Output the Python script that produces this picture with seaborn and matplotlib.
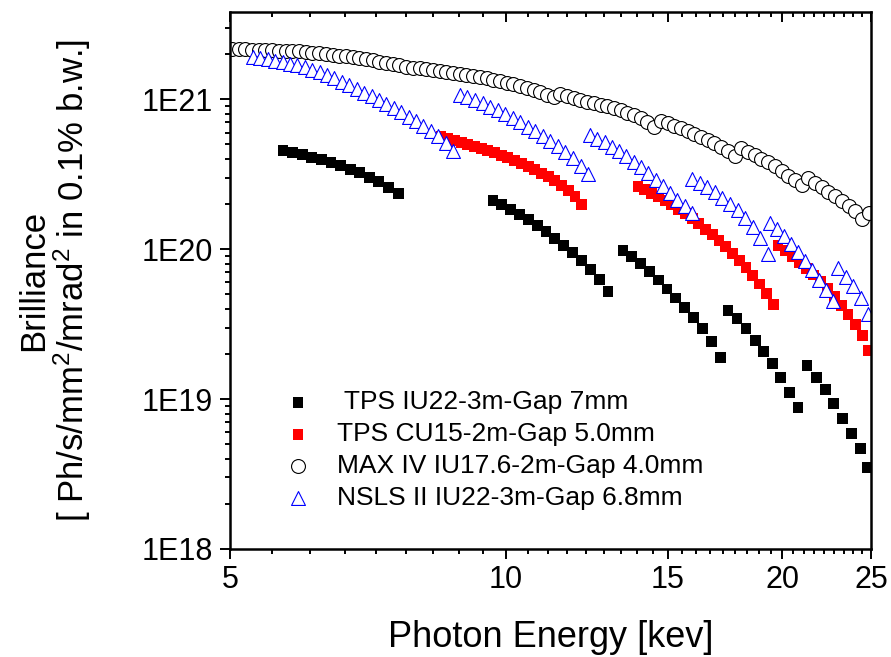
import numpy as np
import pandas as pd
import seaborn as sns
import matplotlib
matplotlib.use("Agg")
import matplotlib.pyplot as plt
from matplotlib.ticker import FixedLocator, NullFormatter

# photon energy [keV] and brilliance [1E20 Ph/s/mm2/mrad2/0.1%bw]
iu22_energy = [5.712, 5.851, 5.994, 6.140, 6.290, 6.443, 6.600, 6.761, 6.925, 7.094, 7.267, 7.445, 7.626,
               9.677, 9.894, 10.118, 10.341, 10.576, 10.812, 11.054, 11.305, 11.557, 11.819, 12.083, 12.353, 12.630, 12.916,
               13.413, 13.714, 14.020, 14.330, 14.651, 14.979, 15.314, 15.657, 16.008, 16.366, 16.732, 17.114,
               17.458, 17.858, 18.267, 18.685, 19.090, 19.502, 19.922, 20.372, 20.813,
               21.290, 21.805, 22.277, 22.758, 23.279, 23.810, 24.324, 24.783]
iu22_brill = [4.533, 4.396, 4.264, 4.104, 3.949, 3.772, 3.602, 3.414, 3.235, 3.020, 2.818, 2.591, 2.345,
              2.106, 1.981, 1.849, 1.713, 1.574, 1.436, 1.310, 1.186, 1.065, 0.9492, 0.8397, 0.7314, 0.6275, 0.5220,
              0.9788, 0.8928, 0.8019, 0.7093, 0.6228, 0.5424, 0.4726, 0.4085, 0.3505, 0.2960, 0.2426, 0.1898,
              0.3901, 0.3451, 0.2938, 0.2463, 0.2081, 0.1731, 0.1397, 0.1110, 0.0882,
              0.1679, 0.1397, 0.1163, 0.0937, 0.0744, 0.0592, 0.0470, 0.0351]

cu15_energy = [8.493, 8.636, 8.783, 8.933, 9.083, 9.238, 9.395, 9.553, 9.716, 9.881, 10.047, 10.219, 10.393,
               10.568, 10.748, 10.931, 11.114, 11.305, 11.497, 11.690, 11.890, 12.092,
               13.927, 14.166, 14.409, 14.652, 14.905, 15.160, 15.417, 15.682, 15.952, 16.221, 16.501, 16.784,
               17.068, 17.361, 17.659, 17.957, 18.267, 18.581, 18.894, 19.220, 19.550,
               19.794, 20.147, 20.506, 20.865, 21.238, 21.616, 22.000, 22.387, 22.786, 23.191, 23.598, 24.019,
               24.446, 24.813]
cu15_brill = [5.618, 5.448, 5.284, 5.124, 4.970, 4.820, 4.674, 4.533, 4.396, 4.231, 4.072, 3.919, 3.743,
              3.575, 3.388, 3.210, 3.043, 2.862, 2.651, 2.455, 2.239, 1.981,
              2.611, 2.493, 2.363, 2.239, 2.106, 1.981, 1.849, 1.726, 1.598, 1.481, 1.361, 1.251,
              1.141, 1.041, 0.9420, 0.8462, 0.7542, 0.6672, 0.5857, 0.5063, 0.4277,
              1.057, 0.9788, 0.8928, 0.8143, 0.7427, 0.6723, 0.6086, 0.5466, 0.4835, 0.4212, 0.3670, 0.3148,
              0.2659, 0.2113]

maxiv_energy = [5.025, 5.110, 5.197, 5.285, 5.375, 5.466, 5.559, 5.653, 5.749, 5.847,
                5.946, 6.047, 6.149, 6.254, 6.360, 6.468, 6.577, 6.689, 6.802, 6.918,
                7.035, 7.154, 7.276, 7.399, 7.525, 7.652, 7.782, 7.914, 8.048, 8.185,
                8.324, 8.465, 8.609, 8.755, 8.903, 9.054, 9.208, 9.364, 9.523, 9.685,
                9.849, 10.016, 10.186, 10.359, 10.535, 10.714, 10.896, 11.081, 11.269, 11.460,
                11.654, 11.852, 12.053, 12.258, 12.466, 12.677, 12.892, 13.111, 13.334, 13.560,
                13.790, 14.024, 14.262, 14.504, 14.750, 15.001, 15.255, 15.514, 15.778, 16.045,
                16.318, 16.595, 16.876, 17.163, 17.454, 17.750, 18.051, 18.358, 18.669, 18.986,
                19.308, 19.636, 19.969, 20.308, 20.652, 21.003, 21.359, 21.722, 22.090, 22.465,
                22.846, 23.234, 23.628, 24.029, 24.437, 24.851]
maxiv_brill = [21.66, 21.59, 21.52, 21.42, 21.32, 21.26, 21.19, 21.13, 21.06, 21.00,
               20.84, 20.68, 20.49, 20.27, 20.06, 19.81, 19.57, 19.33, 19.10, 18.81,
               18.49, 18.16, 17.82, 17.47, 17.16, 16.82, 16.48, 16.13, 16.06, 15.89,
               15.65, 15.41, 15.15, 14.90, 14.67, 14.45, 14.22, 13.99, 13.77, 13.54,
               13.22, 12.88, 12.55, 12.21, 11.86, 11.50, 11.12, 10.75, 10.29, 10.87,
               10.54, 10.14, 9.83, 9.61, 9.39, 9.18, 8.97, 8.70, 8.44, 8.12,
               7.82, 7.46, 7.02, 6.50, 7.18, 6.91, 6.65, 6.40, 6.11, 5.84,
               5.58, 5.33, 5.09, 4.82, 4.53, 4.20, 4.71, 4.46, 4.23, 4.01,
               3.80, 3.58, 3.34, 3.09, 2.88, 2.69, 2.97, 2.78, 2.59, 2.42,
               2.26, 2.11, 1.95, 1.79, 1.60, 1.75]

nsls_energy = [5.297, 5.396, 5.497, 5.600, 5.706, 5.813, 5.923, 6.034, 6.147, 6.261,
               6.380, 6.500, 6.621, 6.744, 6.872, 7.001, 7.133, 7.265, 7.402, 7.541,
               7.683, 7.828, 7.975, 8.126, 8.279, 8.432, 8.591, 8.752,
               8.908, 9.076, 9.252, 9.428, 9.607, 9.789, 9.978, 10.169, 10.362, 10.560,
               10.761, 10.967, 11.178, 11.389, 11.606, 11.828, 12.056, 12.283,
               12.347, 12.574, 12.807, 13.045, 13.280, 13.527, 13.779, 14.034, 14.291, 14.557,
               14.827, 15.098, 15.375, 15.661, 15.952,
               15.952, 16.255, 16.571, 16.891, 17.217, 17.549, 17.884, 18.231, 18.583, 18.942, 19.304,
               19.404, 19.746, 20.097, 20.454, 20.813, 21.185, 21.562, 21.939, 22.332, 22.729,
               23.013, 23.453, 23.900, 24.355, 24.813]
nsls_brill = [19.15, 18.86, 18.44, 18.02, 17.61, 17.21, 16.82, 16.31, 15.70, 15.11,
              14.43, 13.78, 13.06, 12.37, 11.72, 11.03, 10.45, 9.832, 9.247, 8.697,
              8.180, 7.634, 7.125, 6.651, 6.161, 5.705, 5.125, 4.533,
              10.69, 10.29, 9.832, 9.390, 8.900, 8.434, 7.993, 7.518, 7.017, 6.550,
              6.114, 5.705, 5.284, 4.857, 4.464, 4.041, 3.602, 3.186,
              5.793, 5.466, 5.148, 4.820, 4.498, 4.167, 3.842, 3.515, 3.200, 2.915,
              2.639, 2.373, 2.122, 1.936, 1.752,
              2.951, 2.776, 2.591, 2.399, 2.205, 2.012, 1.821, 1.623, 1.414, 1.195, 0.9348,
              1.503, 1.371, 1.232, 1.090, 0.9639, 0.8397, 0.7314, 0.6275, 0.5301, 0.4479,
              0.7542, 0.6571, 0.5637, 0.4690, 0.3670]

labels = [" TPS IU22-3m-Gap 7mm", "TPS CU15-2m-Gap 5.0mm",
          "MAX IV IU17.6-2m-Gap 4.0mm", "NSLS II IU22-3m-Gap 6.8mm"]
x_ticks = [5, 10, 15, 20, 25]
y_ticks = [1e18, 1e19, 1e20, 1e21]
y_tick_labels = ["1E18", "1E19", "1E20", "1E21"]

sns.set_style("ticks")
plt.rcParams["font.family"] = ["Liberation Sans", "DejaVu Sans"]
plt.rcParams["mathtext.fontset"] = "custom"
plt.rcParams["mathtext.rm"] = "Liberation Sans"
plt.rcParams["mathtext.it"] = "Liberation Sans:italic"
plt.rcParams["text.color"] = "black"
plt.rcParams["axes.labelcolor"] = "black"

fig = plt.figure(figsize=(8.91, 6.57), dpi=100)
ax = fig.add_axes([230 / 891, 108 / 657, 641 / 891, 537 / 657])

# (energy, brilliance, marker, size, face, edge, edge width)
styles = [
    (iu22_energy, iu22_brill, "s", 62, "black", "none", 0),
    (cu15_energy, cu15_brill, "s", 62, "red", "none", 0),
    (maxiv_energy, maxiv_brill, "o", 100, "white", "black", 0.8),
    (nsls_energy, nsls_brill, "^", 100, "white", "blue", 0.8),
]
for label, (e, b, m, s, face, edge, lw) in zip(labels, styles):
    df = pd.DataFrame({"energy": e, "brilliance": np.array(b) * 1e20})
    sns.scatterplot(data=df, x="energy", y="brilliance", marker=m, s=s,
                    color=face, edgecolor=edge, linewidth=lw, label=label, ax=ax)

ax.set_xscale("log")
ax.set_yscale("log")
ax.set_xlim(5, 25)
ax.set_ylim(1e18, 3.82e21)

x_minor = [m + k * 5 / 9 for m in x_ticks[:-1] for k in range(1, 9)]
y_minor = [k * 10.0 ** p for p in range(18, 22) for k in range(2, 10)]

ax.xaxis.set_major_locator(FixedLocator(x_ticks))
ax.set_xticklabels([str(t) for t in x_ticks])
ax.xaxis.set_minor_locator(FixedLocator(x_minor))
ax.xaxis.set_minor_formatter(NullFormatter())
ax.yaxis.set_major_locator(FixedLocator(y_ticks))
ax.set_yticklabels(y_tick_labels)
ax.yaxis.set_minor_locator(FixedLocator(y_minor))
ax.yaxis.set_minor_formatter(NullFormatter())

ax.tick_params(which="both", direction="out", bottom=True, left=True,
               top=False, right=False, width=1.4, colors="black", labelsize=22)
ax.tick_params(which="major", length=7.5, pad=4)
ax.tick_params(which="minor", length=3.8)
ax.tick_params(axis="y", pad=5)
for sp in ax.spines.values():
    sp.set_linewidth(1.8)
    sp.set_color("black")

# top axis with inward ticks only (twiny shares y, so leave y alone)
ax_top = ax.twiny()
ax_top.set_xscale("log")
ax_top.set_xlim(5, 25)
ax_top.xaxis.set_major_locator(FixedLocator(x_ticks))
ax_top.xaxis.set_minor_locator(FixedLocator(x_minor))
ax_top.xaxis.set_major_formatter(NullFormatter())
ax_top.xaxis.set_minor_formatter(NullFormatter())
ax_top.tick_params(axis="x", which="both", direction="in", top=True, bottom=False,
                   labeltop=False, width=1.4, colors="black")
ax_top.tick_params(axis="x", which="major", length=7.5)
ax_top.tick_params(axis="x", which="minor", length=3.8)
for sp in ax_top.spines.values():
    sp.set_visible(False)

ax.set_xlabel("Photon Energy [kev]", fontsize=26, labelpad=18, color="black")
ax.set_ylabel("Brilliance\n[ Ph/s/mm$^2$/mrad$^2$ in 0.1% b.w.]", fontsize=25,
              linespacing=1.05, color="black")
ax.yaxis.set_label_coords(-0.213, 0.5)

leg = ax.legend(loc="upper left", bbox_to_anchor=(0.0855, 0.296), frameon=False, fontsize=19,
                handlelength=1.0, handletextpad=0.98, labelspacing=0.3, borderpad=0,
                borderaxespad=0, scatterpoints=1)
for t in leg.get_texts():
    t.set_color("black")

fig.savefig("out.png", dpi=100)
